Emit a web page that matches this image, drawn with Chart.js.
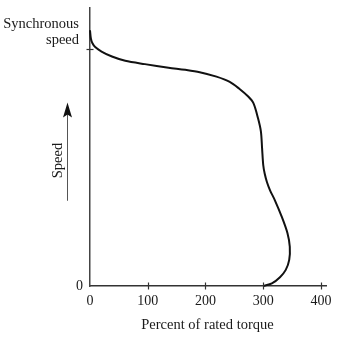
<!DOCTYPE html>
<html>
<head>
<meta charset="utf-8">
<script src="https://cdn.jsdelivr.net/npm/chart.js@4/dist/chart.umd.min.js"></script>
<style>
html,body{margin:0;padding:0;background:#fff;}
canvas{display:block;}
</style>
</head>
<body>
<canvas id="c" width="338" height="344"></canvas>
<script>
// Torque-speed curve (percent of rated torque vs speed, 100 = synchronous speed)
const torque = [0, 1.5, 4, 9, 20, 38, 61, 95, 136, 165, 190, 219, 242, 258, 274, 283, 291, 296, 298, 300, 302.5, 306.5, 312, 320, 332, 342, 346, 345, 339, 329, 315, 300];
const speed  = [108, 104.5, 102.6, 100.9, 99, 96.9, 95.1, 93.7, 92.2, 91.3, 90.3, 88.4, 86.2, 83.4, 80, 77.2, 70.8, 65.2, 58.2, 51.1, 47.5, 43.8, 40.3, 36.3, 29.3, 22.3, 16.6, 11, 6.8, 3.7, 1.1, 0];
const xTicks = [0, 100, 200, 300, 400];
const yTicks = [0, 100];
const yTickLabels = ['0', ''];
const syncLabel = ['Synchronous', 'speed'];
const xTitle = 'Percent of rated torque';
const yTitle = 'Speed';

const FONT = '"Liberation Serif", "DejaVu Serif", serif';
const INK = '#1a1a1a';

const decor = {
  id: 'decor',
  afterDraw(chart) {
    const ctx = chart.ctx;
    const xs = chart.scales.x, ys = chart.scales.y;
    const ax = xs.getPixelForValue(0), ay = ys.getPixelForValue(0);
    ctx.save();
    ctx.strokeStyle = '#333';
    ctx.lineWidth = 1.2;
    // tick crosses
    xTicks.forEach(v => {
      if (v === 0) return;
      const px = Math.round(xs.getPixelForValue(v)) + 0.5;
      ctx.beginPath(); ctx.moveTo(px, ay - 3.5); ctx.lineTo(px, ay + 3.5); ctx.stroke();
    });
    yTicks.forEach(v => {
      if (v === 0) return;
      const py = Math.round(ys.getPixelForValue(v)) + 0.5;
      ctx.beginPath(); ctx.moveTo(ax - 3.5, py); ctx.lineTo(ax + 3.5, py); ctx.stroke();
    });
    // synchronous speed label
    const sy = ys.getPixelForValue(100);
    ctx.fillStyle = INK;
    ctx.font = '14.5px ' + FONT;
    ctx.textAlign = 'right';
    ctx.textBaseline = 'middle';
    ctx.fillText(syncLabel[0], ax - 11, sy - 25);
    ctx.fillText(syncLabel[1], ax - 11, sy - 9);
    // x title
    ctx.textAlign = 'center';
    ctx.fillText(xTitle, (xs.getPixelForValue(0) + xs.getPixelForValue(400)) / 2 + 2, ay + 39);
    // y title rotated
    ctx.save();
    ctx.translate(ax - 32, ys.getPixelForValue(53));
    ctx.rotate(-Math.PI / 2);
    ctx.fillText(yTitle, 0, 0);
    ctx.restore();
    // arrow
    const arX = ax - 22.5;
    const yTop = ys.getPixelForValue(77.5), yBot = ys.getPixelForValue(36);
    ctx.strokeStyle = '#555';
    ctx.lineWidth = 1;
    ctx.beginPath(); ctx.moveTo(arX, yBot); ctx.lineTo(arX, yTop + 10); ctx.stroke();
    ctx.fillStyle = '#111';
    ctx.beginPath();
    ctx.moveTo(arX, yTop);
    ctx.lineTo(arX + 4.5, yTop + 15);
    ctx.lineTo(arX, yTop + 12);
    ctx.lineTo(arX - 4.5, yTop + 15);
    ctx.closePath();
    ctx.fill();
    ctx.restore();
  }
};

new Chart(document.getElementById('c'), {
  type: 'scatter',
  data: {
    datasets: [{
      data: torque.map((t, i) => ({ x: t, y: speed[i] })),
      showLine: true,
      borderColor: '#111',
      borderWidth: 2,
      pointRadius: 0,
      tension: 0.3,
      fill: false,
      clip: false
    }]
  },
  options: {
    responsive: false,
    animation: false,
    devicePixelRatio: 1,
    layout: { padding: { top: 8, right: 12, left: 0, bottom: 0 } },
    plugins: { legend: { display: false }, tooltip: { enabled: false } },
    scales: {
      x: {
        type: 'linear',
        min: 0, max: 408.7,
        afterBuildTicks: s => { s.ticks = xTicks.map(v => ({ value: v })); },
        afterFit: s => { s.height = 58; s.paddingLeft = 0; s.paddingRight = 0; },
        grid: { display: false, drawTicks: false },
        border: { display: true, color: '#333', width: 1.5 },
        ticks: { color: INK, font: { family: FONT, size: 14 }, padding: 7, maxRotation: 0, autoSkip: false }
      },
      y: {
        type: 'linear',
        min: 0, max: 117.4,
        afterBuildTicks: s => { s.ticks = yTicks.map(v => ({ value: v })); },
        afterFit: s => { s.width = 90; s.paddingTop = 0; s.paddingBottom = 0; },
        grid: { display: false, drawTicks: false },
        border: { display: true, color: '#444', width: 1.5 },
        ticks: {
          color: INK, font: { family: FONT, size: 14 }, padding: 7, autoSkip: false,
          callback: (v) => yTickLabels[yTicks.indexOf(v)] ?? ''
        }
      }
    }
  },
  plugins: [decor]
});
</script>
</body>
</html>
